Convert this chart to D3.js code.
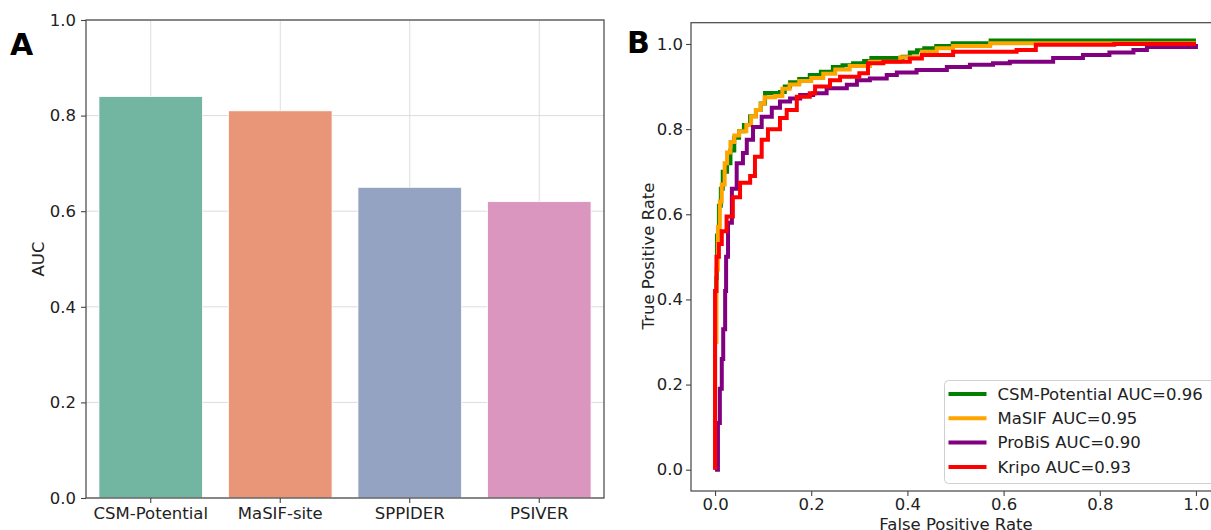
<!DOCTYPE html>
<html>
<head>
<meta charset="utf-8">
<script src="https://cdn.jsdelivr.net/npm/d3@7"></script>
<style>
  body { margin: 0; background: #fff; }
  svg { display: block; font-family: "DejaVu Sans", sans-serif; }
</style>
</head>
<body>
<script>
// ---- panel A : AUC bars ----
var methods = ['CSM-Potential', 'MaSIF-site', 'SPPIDER', 'PSIVER'];
var aucValues = [0.84, 0.81, 0.65, 0.62];
var barColors = ['#72b6a1', '#e99577', '#95a3c3', '#db96c0'];
var aucTicks = [0, 0.2, 0.4, 0.6, 0.8, 1.0];

// ---- panel B : ROC curves ----
var rocLabels = ['CSM-Potential AUC=0.96', 'MaSIF AUC=0.95', 'ProBiS AUC=0.90', 'Kripo AUC=0.93'];
var rocColors = ['green', 'orange', 'purple', 'red'];
var rateTicks = [0, 0.2, 0.4, 0.6, 0.8, 1.0];

var csmFpr = [0, 0, 0.002, 0.004, 0.008, 0.012, 0.016, 0.025, 0.032, 0.04, 0.05, 0.06, 0.073, 0.085, 0.095, 0.104, 0.135, 0.145, 0.156, 0.175, 0.197, 0.22, 0.245, 0.265, 0.287, 0.31, 0.325, 0.39, 0.405, 0.42, 0.435, 0.46, 0.494, 0.573, 1.0];
var csmTpr = [0, 0.31, 0.45, 0.55, 0.62, 0.66, 0.70, 0.72, 0.75, 0.78, 0.795, 0.81, 0.83, 0.845, 0.86, 0.885, 0.887, 0.90, 0.91, 0.918, 0.927, 0.935, 0.946, 0.95, 0.955, 0.96, 0.967, 0.97, 0.98, 0.985, 0.99, 0.995, 1.002, 1.008, 1.008];

var masifFpr = [0, 0, 0.003, 0.006, 0.01, 0.014, 0.02, 0.025, 0.032, 0.04, 0.05, 0.065, 0.075, 0.085, 0.095, 0.103, 0.125, 0.14, 0.155, 0.175, 0.2, 0.225, 0.25, 0.28, 0.322, 0.385, 0.43, 0.461, 0.495, 0.572, 1.0];
var masifTpr = [0, 0.3, 0.47, 0.57, 0.63, 0.67, 0.72, 0.745, 0.77, 0.785, 0.795, 0.81, 0.83, 0.845, 0.86, 0.875, 0.878, 0.895, 0.905, 0.913, 0.92, 0.93, 0.94, 0.948, 0.958, 0.969, 0.982, 0.99, 0.995, 1.002, 1.002];

var probisFpr = [0, 0.006, 0.01, 0.014, 0.017, 0.021, 0.023, 0.027, 0.035, 0.045, 0.058, 0.066, 0.079, 0.097, 0.118, 0.135, 0.156, 0.177, 0.204, 0.232, 0.274, 0.295, 0.322, 0.357, 0.378, 0.419, 0.482, 0.53, 0.578, 0.613, 0.703, 0.765, 0.82, 0.87, 0.898, 1.0];
var probisTpr = [0, 0.11, 0.19, 0.26, 0.33, 0.42, 0.5, 0.58, 0.66, 0.72, 0.744, 0.775, 0.805, 0.829, 0.85, 0.865, 0.872, 0.88, 0.884, 0.896, 0.904, 0.915, 0.919, 0.927, 0.933, 0.939, 0.946, 0.951, 0.955, 0.958, 0.967, 0.974, 0.98, 0.986, 0.993, 1.0];

var kripoFpr = [0, 0, 0.003, 0.008, 0.014, 0.024, 0.037, 0.052, 0.073, 0.083, 0.097, 0.11, 0.135, 0.149, 0.17, 0.197, 0.208, 0.239, 0.26, 0.3, 0.318, 0.35, 0.405, 0.43, 0.495, 0.627, 0.667, 0.83, 1.0];
var kripoTpr = [0, 0.42, 0.5, 0.53, 0.56, 0.595, 0.64, 0.674, 0.69, 0.735, 0.775, 0.8, 0.826, 0.845, 0.876, 0.884, 0.9, 0.915, 0.923, 0.931, 0.955, 0.958, 0.966, 0.974, 0.982, 0.986, 0.998, 1.0, 1.0];

var rocFpr = [csmFpr, masifFpr, probisFpr, kripoFpr];
var rocTpr = [csmTpr, masifTpr, probisTpr, kripoTpr];

var width = 1211, height = 530;
var textColor = '#222';
var spineColor = '#444';
var fontSize = '16.5px';

var svg = d3.select('body')
  .append('svg')
    .attr('width', width)
    .attr('height', height);

function styleAxis(g) {
  g.select('.domain').remove();
  g.selectAll('.tick line').attr('stroke', spineColor).attr('stroke-width', 1.1);
  g.selectAll('.tick text')
    .attr('fill', textColor)
    .style('font-size', fontSize)
    .style('font-family', '"DejaVu Sans", sans-serif');
}

// ================= Panel A =================
var a = {left: 86, right: 604, top: 20, bottom: 498};

var xBand = d3.scaleBand()
  .domain(methods)
  .range([a.left, a.right])
  .paddingInner(0.2)
  .paddingOuter(0.1);

var yAuc = d3.scaleLinear().domain([0, 1]).range([a.bottom, a.top]);

var panelA = svg.append('g');

// grid
panelA.selectAll('line.hgrid')
  .data(aucTicks)
  .enter().append('line')
    .attr('x1', a.left).attr('x2', a.right)
    .attr('y1', function(d) { return yAuc(d); })
    .attr('y2', function(d) { return yAuc(d); })
    .attr('stroke', '#dddddd')
    .attr('stroke-width', 1);

panelA.selectAll('line.vgrid')
  .data(methods)
  .enter().append('line')
    .attr('x1', function(d) { return xBand(d) + xBand.bandwidth() / 2; })
    .attr('x2', function(d) { return xBand(d) + xBand.bandwidth() / 2; })
    .attr('y1', a.top).attr('y2', a.bottom)
    .attr('stroke', '#dddddd')
    .attr('stroke-width', 1);

// bars
panelA.selectAll('rect.bar')
  .data(methods)
  .enter().append('rect')
    .attr('x', function(d) { return xBand(d); })
    .attr('y', function(d, i) { return yAuc(aucValues[i]); })
    .attr('width', xBand.bandwidth())
    .attr('height', function(d, i) { return yAuc(0) - yAuc(aucValues[i]); })
    .attr('fill', function(d, i) { return barColors[i]; })
    .attr('stroke', '#ffffff')
    .attr('stroke-width', 0.8);

// frame
panelA.append('rect')
  .attr('x', a.left).attr('y', a.top)
  .attr('width', a.right - a.left).attr('height', a.bottom - a.top)
  .attr('fill', 'none')
  .attr('stroke', spineColor)
  .attr('stroke-width', 1.2);

panelA.append('g')
  .attr('transform', 'translate(' + a.left + ',0)')
  .call(d3.axisLeft(yAuc).tickValues(aucTicks).tickFormat(d3.format('.1f')).tickSize(5).tickPadding(5))
  .call(styleAxis);

panelA.append('g')
  .attr('transform', 'translate(0,' + a.bottom + ')')
  .call(d3.axisBottom(xBand).tickSize(5).tickPadding(4))
  .call(styleAxis);

panelA.append('text')
  .attr('transform', 'translate(44,259) rotate(-90)')
  .attr('text-anchor', 'middle')
  .attr('fill', textColor)
  .style('font-size', fontSize)
  .text('AUC');

panelA.append('text')
  .attr('x', 10).attr('y', 55)
  .style('font-size', '30px')
  .style('font-weight', 'bold')
  .attr('fill', '#000')
  .text('A');

// ================= Panel B =================
var b = {left: 691, right: 1220, top: 22.7, bottom: 491};

var xFpr = d3.scaleLinear().domain([-0.05, 1.05]).range([b.left, b.right]);
var yTpr = d3.scaleLinear().domain([-0.05, 1.05]).range([b.bottom, b.top]);

var panelB = svg.append('g');

var rocLine = d3.line()
  .x(function(d) { return xFpr(d[0]); })
  .y(function(d) { return yTpr(d[1]); })
  .curve(d3.curveStepAfter);

var rocData = rocLabels.map(function(label, k) {
  return rocFpr[k].map(function(f, j) { return [f, rocTpr[k][j]]; });
});

panelB.selectAll('path.roc')
  .data(rocData)
  .enter().append('path')
    .attr('d', rocLine)
    .attr('fill', 'none')
    .attr('stroke', function(d, i) { return rocColors[i]; })
    .attr('stroke-width', 4)
    .attr('stroke-linejoin', 'miter');

panelB.append('rect')
  .attr('x', b.left).attr('y', b.top)
  .attr('width', b.right - b.left).attr('height', b.bottom - b.top)
  .attr('fill', 'none')
  .attr('stroke', spineColor)
  .attr('stroke-width', 1.2);

panelB.append('g')
  .attr('transform', 'translate(' + b.left + ',0)')
  .call(d3.axisLeft(yTpr).tickValues(rateTicks).tickFormat(d3.format('.1f')).tickSize(5).tickPadding(3))
  .call(styleAxis);

panelB.append('g')
  .attr('transform', 'translate(0,' + b.bottom + ')')
  .call(d3.axisBottom(xFpr).tickValues(rateTicks).tickFormat(d3.format('.1f')).tickSize(5).tickPadding(2))
  .call(styleAxis);

panelB.append('text')
  .attr('transform', 'translate(654,256) rotate(-90)')
  .attr('text-anchor', 'middle')
  .attr('fill', textColor)
  .style('font-size', fontSize)
  .text('True Positive Rate');

// the reference crops this label at the bottom edge
panelB.append('text')
  .attr('x', 956).attr('y', 530)
  .attr('text-anchor', 'middle')
  .attr('fill', textColor)
  .style('font-size', fontSize)
  .text('False Positive Rate');

panelB.append('text')
  .attr('x', 627).attr('y', 53)
  .style('font-size', '30px')
  .style('font-weight', 'bold')
  .attr('fill', '#000')
  .text('B');

// legend
var legend = panelB.append('g').attr('transform', 'translate(944.5,380.5)');
legend.append('rect')
  .attr('width', 300).attr('height', 103)
  .attr('rx', 4)
  .attr('fill', '#fff')
  .attr('fill-opacity', 0.85)
  .attr('stroke', '#d0d0d0');

var rows = legend.selectAll('g.row')
  .data(rocLabels)
  .enter().append('g')
    .attr('transform', function(d, i) { return 'translate(0,' + (13.5 + i * 24.3) + ')'; });

rows.append('line')
  .attr('x1', 4).attr('x2', 42)
  .attr('stroke', function(d, i) { return rocColors[i]; })
  .attr('stroke-width', 4);

rows.append('text')
  .attr('x', 53)
  .attr('dy', '0.35em')
  .attr('fill', textColor)
  .style('font-size', fontSize)
  .text(function(d) { return d; });
</script>
</body>
</html>
